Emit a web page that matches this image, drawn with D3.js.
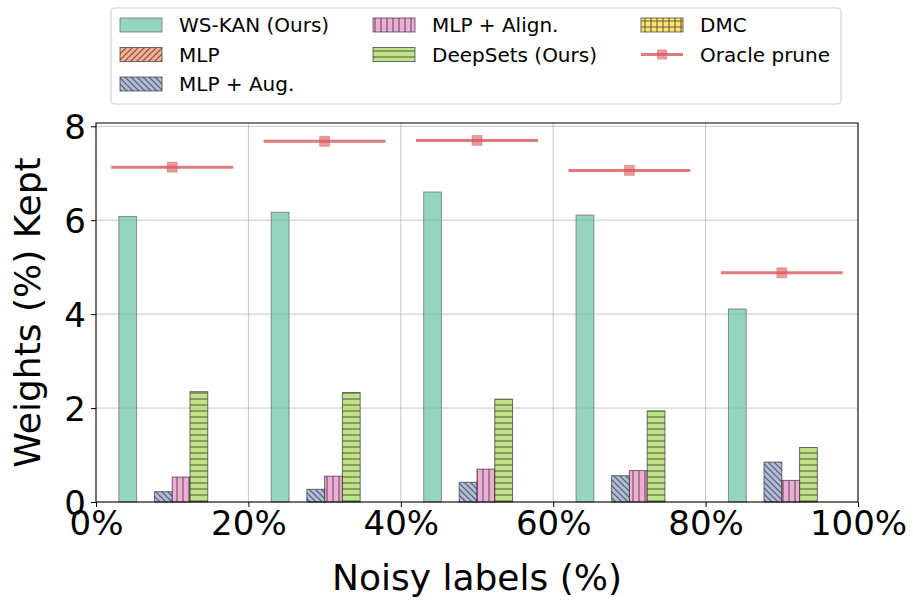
<!DOCTYPE html>
<html>
<head>
<meta charset="utf-8">
<script src="https://cdn.jsdelivr.net/npm/d3@7"></script>
<style>
  body { margin: 0; background: #fff; }
  text { font-family: "DejaVu Sans", sans-serif; }
</style>
</head>
<body>
<div id="chart"></div>
<script>
var noiseLevels = [10, 30, 50, 70, 90];
var methods = ['WS-KAN (Ours)', 'MLP', 'MLP + Aug.', 'MLP + Align.', 'DeepSets (Ours)', 'DMC'];
var wsKan    = [6.08, 6.17, 6.60, 6.11, 4.11];
var mlp      = [0, 0, 0, 0, 0];
var mlpAug   = [0.22, 0.27, 0.42, 0.56, 0.85];
var mlpAlign = [0.53, 0.55, 0.70, 0.67, 0.46];
var deepSets = [2.35, 2.33, 2.19, 1.94, 1.16];
var dmc      = [0, 0, 0, 0, 0];
var oracle   = [7.13, 7.68, 7.70, 7.06, 4.88];
var xTicks = [0, 20, 40, 60, 80, 100];
var yTicks = [0, 2, 4, 6, 8];

var series = [wsKan, mlp, mlpAug, mlpAlign, deepSets, dmc];
var colors = ['#66c2a5', '#fc8d62', '#8da0cb', '#e78ac3', '#a6d854', '#ffd92f'];
var hatches = [null, 'diag', 'back', 'vert', 'horiz', 'cross'];

var W = 913, H = 608;
var margin = {left: 96, right: 55, top: 123, bottom: 106};

var svg = d3.select('#chart').append('svg')
  .attr('width', W).attr('height', H);

var defs = svg.append('defs');
function makePattern(id, color, kind){
  var s = 6;
  var p = defs.append('pattern').attr('id', id)
    .attr('patternUnits', 'userSpaceOnUse').attr('width', s).attr('height', s);
  p.append('rect').attr('width', s).attr('height', s).attr('fill', color).attr('fill-opacity', 0.7);
  var g = p.append('g').attr('stroke', '#333').attr('stroke-opacity', 0.75).attr('stroke-width', 1.1);
  if (kind === 'diag') {
    g.append('path').attr('d', 'M0,' + s + ' L' + s + ',0 M-1,1 L1,-1 M' + (s-1) + ',' + (s+1) + ' L' + (s+1) + ',' + (s-1));
  } else if (kind === 'back') {
    g.append('path').attr('d', 'M0,0 L' + s + ',' + s + ' M-1,' + (s-1) + ' L1,' + (s+1) + ' M' + (s-1) + ',-1 L' + (s+1) + ',1');
  } else if (kind === 'vert') {
    g.append('path').attr('d', 'M' + s/2 + ',0 V' + s);
  } else if (kind === 'horiz') {
    g.append('path').attr('d', 'M0,' + s/2 + ' H' + s);
  } else if (kind === 'cross') {
    g.append('path').attr('d', 'M' + s/2 + ',0 V' + s + ' M0,' + s/2 + ' H' + s);
  }
}
series.forEach(function(d, i){
  if (hatches[i]) makePattern('hatch' + i, colors[i], hatches[i]);
});
function fillOf(i){ return hatches[i] ? 'url(#hatch' + i + ')' : colors[i]; }

var x = d3.scaleLinear().domain([0, 100]).range([margin.left, W - margin.right]);
var y = d3.scaleLinear().domain([0, 8.07]).range([H - margin.bottom, margin.top]);

// grid
var grid = svg.append('g').attr('stroke', '#b0b0b0').attr('stroke-opacity', 0.7).attr('stroke-width', 1);
yTicks.forEach(function(t){
  grid.append('line').attr('x1', x(0)).attr('x2', x(100)).attr('y1', y(t)).attr('y2', y(t));
});
xTicks.forEach(function(t){
  grid.append('line').attr('x1', x(t)).attr('x2', x(t)).attr('y1', y(0)).attr('y2', y(8.07));
});

// bars
var bw = 14 / 6;
var bars = svg.append('g');
series.forEach(function(vals, i){
  bars.selectAll('.b' + i).data(vals).enter().append('rect')
    .attr('x', function(d, j){ return x(noiseLevels[j] + (i - 3) * bw); })
    .attr('width', x(bw) - x(0))
    .attr('y', function(d){ return y(d); })
    .attr('height', function(d){ return y(0) - y(d); })
    .attr('fill', fillOf(i))
    .attr('fill-opacity', hatches[i] ? 1 : 0.7)
    .attr('stroke', i === 0 ? '#666' : '#333')
    .attr('stroke-opacity', 0.7)
    .attr('stroke-width', 1);
});

// oracle prune
var oc = '#d9595b';
var og = svg.append('g');
og.selectAll('line').data(oracle).enter().append('line')
  .attr('x1', function(d, j){ return x(noiseLevels[j] - 8); })
  .attr('x2', function(d, j){ return x(noiseLevels[j] + 8); })
  .attr('y1', function(d){ return y(d); })
  .attr('y2', function(d){ return y(d); })
  .attr('stroke', oc).attr('stroke-opacity', 0.8).attr('stroke-width', 3);
og.selectAll('rect').data(oracle).enter().append('rect')
  .attr('x', function(d, j){ return x(noiseLevels[j]) - 5; })
  .attr('y', function(d){ return y(d) - 5; })
  .attr('width', 10).attr('height', 10)
  .attr('fill', oc).attr('fill-opacity', 0.6)
  .attr('stroke', oc).attr('stroke-opacity', 0.4);

// axes
var xAxis = svg.append('g').attr('transform', 'translate(0,' + y(0) + ')')
  .call(d3.axisBottom(x).tickValues(xTicks).tickFormat(function(d){ return d + '%'; }).tickSize(5).tickPadding(4));
var yAxis = svg.append('g').attr('transform', 'translate(' + x(0) + ',0)')
  .call(d3.axisLeft(y).tickValues(yTicks).tickSize(5).tickPadding(5));
[xAxis, yAxis].forEach(function(a){
  a.select('.domain').remove();
  a.selectAll('text').attr('font-size', 34).attr('fill', '#000').attr('font-family', '"DejaVu Sans", sans-serif');
  a.selectAll('line').attr('stroke', '#000');
});
yAxis.selectAll('text').attr('dy', '0.36em');
svg.append('rect').attr('x', x(0)).attr('y', y(8.07)).attr('width', x(100) - x(0)).attr('height', y(0) - y(8.07))
  .attr('fill', 'none').attr('stroke', '#000').attr('stroke-width', 1);

svg.append('text').attr('x', (x(0) + x(100)) / 2).attr('y', 590).attr('text-anchor', 'middle')
  .attr('font-size', 36).text('Noisy labels (%)');
svg.append('text').attr('transform', 'translate(40,' + (y(0) + y(8.07)) / 2 + ') rotate(-90)')
  .attr('text-anchor', 'middle').attr('font-size', 36).text('Weights (%) Kept');

// legend (column-major, 3 rows)
var lg = svg.append('g');
lg.append('rect').attr('x', 111).attr('y', 8).attr('width', 730).attr('height', 96).attr('rx', 3)
  .attr('fill', '#fff').attr('fill-opacity', 0.8).attr('stroke', '#ccc');
var legendItems = methods.concat(['Oracle prune']);
var colX = [120, 373, 641];
var rowY = [25, 54.5, 84];
var slots = [[0,0],[0,1],[0,2],[1,0],[1,1],[2,0],[2,1]];
legendItems.forEach(function(name, k){
  var hx = colX[slots[k][0]], hy = rowY[slots[k][1]];
  if (k < 6) {
    lg.append('rect').attr('x', hx).attr('y', hy - 7).attr('width', 42).attr('height', 14)
      .attr('fill', fillOf(k)).attr('fill-opacity', hatches[k] ? 1 : 0.7)
      .attr('stroke', k === 0 ? '#666' : '#333').attr('stroke-opacity', 0.7);
  } else {
    lg.append('line').attr('x1', hx).attr('x2', hx + 42).attr('y1', hy).attr('y2', hy)
      .attr('stroke', oc).attr('stroke-opacity', 0.8).attr('stroke-width', 3);
    lg.append('rect').attr('x', hx + 16).attr('y', hy - 5).attr('width', 10).attr('height', 10)
      .attr('fill', oc).attr('fill-opacity', 0.6);
  }
  lg.append('text').attr('x', hx + 59).attr('y', hy).attr('dy', '0.35em')
    .attr('font-size', 20).text(name);
});
</script>
</body>
</html>
